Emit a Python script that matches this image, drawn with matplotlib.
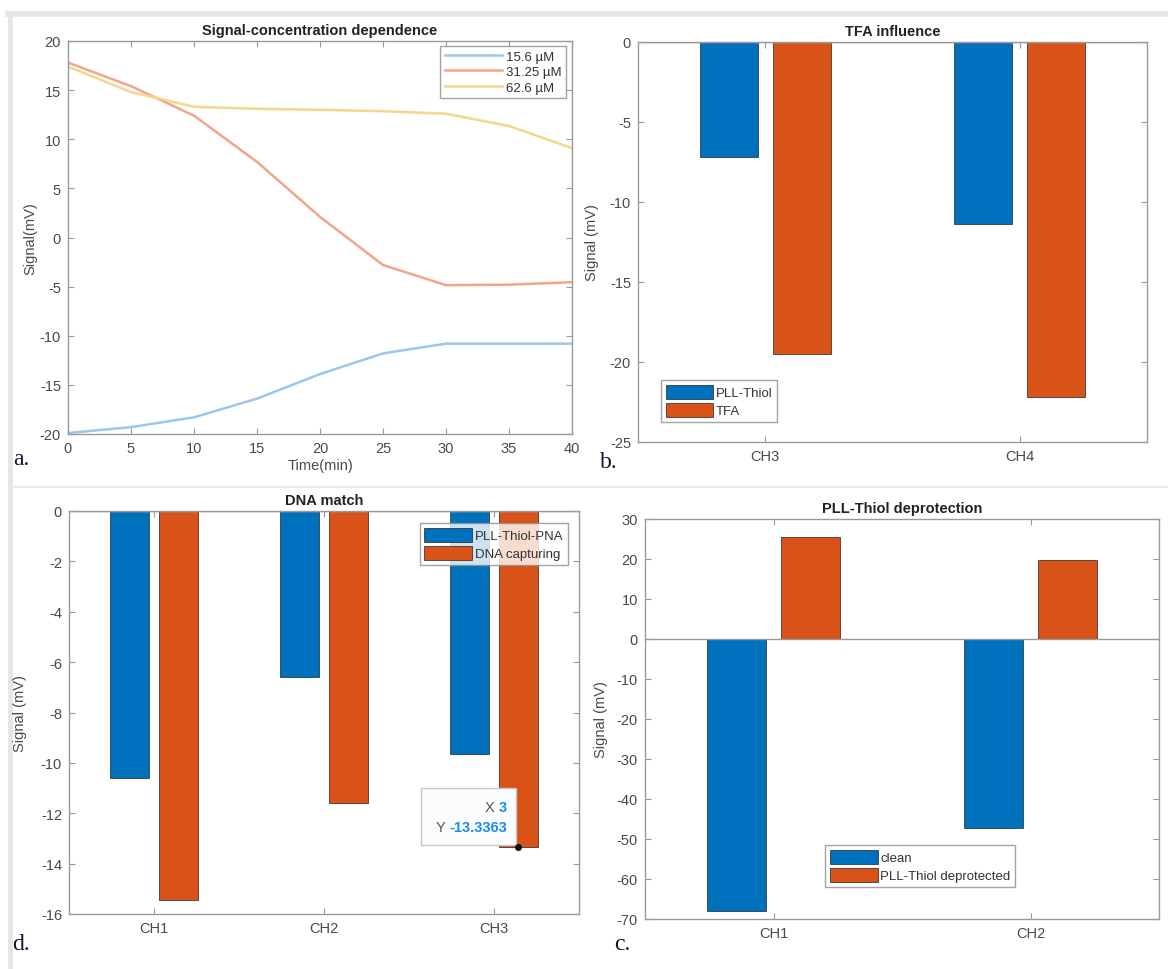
import numpy as np
import matplotlib.pyplot as plt
from matplotlib.lines import Line2D
from matplotlib.patches import Rectangle
from matplotlib.transforms import Affine2D, ScaledTranslation, offset_copy

plt.rcParams['font.family'] = ['Liberation Sans', 'DejaVu Sans']
plt.rcParams['axes.unicode_minus'] = False

# panel a: signal vs time
time_min = [0, 5, 10, 15, 20, 25, 30, 35, 40]
sig_156 = [-19.9, -19.3, -18.3, -16.4, -13.9, -11.8, -10.8, -10.8, -10.8]
sig_3125 = [17.8, 15.4, 12.4, 7.7, 2.1, -2.8, -4.85, -4.8, -4.55]
sig_626 = [17.4, 14.8, 13.3, 13.1, 13.0, 12.85, 12.6, 11.35, 9.1]
conc_labels = ['15.6 µM', '31.25 µM', '62.6 µM']

# panel b: TFA influence
tfa_channels = ['CH3', 'CH4']
tfa_thiol = [-7.2, -11.35]
tfa_tfa = [-19.5, -22.2]

# panel d: DNA match
dna_channels = ['CH1', 'CH2', 'CH3']
dna_pna = [-10.6, -6.6, -9.65]
dna_capt = [-15.45, -11.6, -13.3363]

# panel c: deprotection
dep_channels = ['CH1', 'CH2']
dep_clean = [-68.0, -47.3]
dep_deprot = [25.5, 19.7]

BLUE = '#0072BD'
ORANGE = '#D95319'
SPINE = '#9a9a9a'
TXT = '#4a4a4a'

W, H = 1168, 970
fig = plt.figure(figsize=(W / 100, H / 100), dpi=100)


def box(l, t, r, b):
    return [l / W, 1 - b / H, (r - l) / W, (b - t) / H]


def style(ax):
    for s in ax.spines.values():
        s.set_color(SPINE)
        s.set_linewidth(1.0)
    ax.tick_params(direction='in', top=True, right=True, length=4,
                   color=SPINE, labelcolor=TXT, labelsize=10.5, pad=5)
    ax.set_facecolor('white')


def grouped(ax, cats, s1, s2, lab1, lab2):
    x = np.arange(1, len(cats) + 1)
    w = 0.229
    ax.bar(x - 0.143, s1, w, color=BLUE, edgecolor='#222222', lw=0.5, label=lab1, zorder=2)
    ax.bar(x + 0.143, s2, w, color=ORANGE, edgecolor='#222222', lw=0.5, label=lab2, zorder=2)
    ax.axhline(0, color=SPINE, lw=1.0, zorder=3)
    ax.set_xticks(x)
    ax.set_xticklabels(cats)
    ax.set_xlim(0.5, len(cats) + 0.5)
    return x


def bar_legend(ax, loc, bta):
    leg = ax.legend(loc=loc, bbox_to_anchor=bta, fontsize=9.5, frameon=True, fancybox=False,
                    edgecolor='#8c8c8c', handlelength=3.6, handleheight=1.3,
                    handletextpad=0.2, borderpad=0.35, labelspacing=0.25, borderaxespad=0)
    leg.get_frame().set_linewidth(1.0)
    for t in leg.get_texts():
        t.set_color('#333333')
    return leg


# ---- panel a
axa = fig.add_axes(box(68, 42, 572, 435))
style(axa)
axa.plot(time_min, sig_156, color='#9cc7ea', lw=1.8, label=conc_labels[0])
axa.plot(time_min, sig_3125, color='#f1a58c', lw=1.8, label=conc_labels[1])
axa.plot(time_min, sig_626, color='#f6d58c', lw=1.8, label=conc_labels[2])
axa.set_xlim(0, 40)
axa.set_ylim(-20, 20)
axa.set_xticks(np.arange(0, 41, 5))
axa.set_yticks(np.arange(-20, 21, 5))
axa.set_xlabel('Time(min)', color=TXT, fontsize=10.5, labelpad=2)
axa.set_ylabel('Signal(mV)', color=TXT, fontsize=10.5, labelpad=2)
axa.set_title('Signal-concentration dependence', fontsize=10.5, fontweight='bold', color='#222222', pad=5)
lg = axa.legend(loc='upper right', bbox_to_anchor=(0.988, 0.988), fontsize=9.5, fancybox=False,
                edgecolor='#8c8c8c', handlelength=4.3, handletextpad=0.3, borderpad=0.35,
                labelspacing=0.25, borderaxespad=0)
for t in lg.get_texts():
    t.set_color('#333333')

# ---- panel b
axb = fig.add_axes(box(638, 43, 1147, 443))
style(axb)
grouped(axb, tfa_channels, tfa_thiol, tfa_tfa, 'PLL-Thiol', 'TFA')
axb.set_ylim(-25, 0)
axb.set_yticks(np.arange(-25, 1, 5))
axb.set_ylabel('Signal (mV)', color=TXT, fontsize=10.5, labelpad=8)
axb.set_title('TFA influence', fontsize=10.5, fontweight='bold', color='#222222', pad=5)
bar_legend(axb, 'lower left', (0.045, 0.05))

# ---- panel d
axd = fig.add_axes(box(69, 512, 579, 915))
style(axd)
xd = grouped(axd, dna_channels, dna_pna, dna_capt, 'PLL-Thiol-PNA', 'DNA capturing')
axd.set_ylim(-16, 0)
axd.set_yticks(np.arange(-16, 1, 2))
axd.set_ylabel('Signal (mV)', color=TXT, fontsize=10.5, labelpad=10)
axd.set_title('DNA match', fontsize=10.5, fontweight='bold', color='#222222', pad=5)
bar_legend(axd, 'upper right', (0.978, 0.97))

# data tip on CH3 / DNA capturing
tip_x = xd[2] + 0.143
tip_y = dna_capt[2]
pt = fig.dpi / 72.0
tip_tr = Affine2D().scale(pt) + ScaledTranslation(tip_x, tip_y, axd.transData)
axd.add_patch(Rectangle((-70, 1.5), 68, 41, transform=tip_tr, facecolor='#fbfcfe',
                        edgecolor='#c8c8c8', lw=1.0, zorder=5))
axd.plot([tip_x], [tip_y], 'o', color='#111111', ms=4, zorder=6)
t_x = axd.text(tip_x, tip_y, '3', transform=offset_copy(axd.transData, fig, x=-8, y=29, units='points'),
               ha='right', va='center', color='#1a8cf0', fontsize=10.5, fontweight='bold', zorder=7)
axd.annotate('X ', xy=(0, 0.5), xycoords=t_x, ha='right', va='center', color='#555555',
             fontsize=10.5, zorder=7)
t_y = axd.text(tip_x, tip_y, '%.4f' % tip_y,
               transform=offset_copy(axd.transData, fig, x=-8, y=14, units='points'),
               ha='right', va='center', color='#1a8cf0', fontsize=10.5, fontweight='bold', zorder=7)
axd.annotate('Y ', xy=(0, 0.5), xycoords=t_y, ha='right', va='center', color='#555555',
             fontsize=10.5, zorder=7)

# ---- panel c
axc = fig.add_axes(box(645, 520, 1159, 920))
style(axc)
grouped(axc, dep_channels, dep_clean, dep_deprot, 'clean', 'PLL-Thiol deprotected')
axc.set_ylim(-70, 30)
axc.set_yticks(np.arange(-70, 31, 10))
axc.set_ylabel('Signal (mV)', color=TXT, fontsize=10.5, labelpad=6)
axc.set_title('PLL-Thiol deprotection', fontsize=10.5, fontweight='bold', color='#222222', pad=5)
bar_legend(axc, 'lower right', (0.72, 0.08))

# panel letters
for s, px, py in [('a.', 13, 460), ('b.', 600, 463), ('d.', 12, 945), ('c.', 614, 945)]:
    fig.text(px / W, 1 - py / H, s, family=['Liberation Serif', 'DejaVu Serif'], fontsize=17,
             color='#111133', va='center', ha='left')

# screenshot frame lines
for (x0, y0, x1, y1, lw) in [(8, 15, 1168, 15, 4.0), (10, 15, 10, 970, 3.5), (12, 488, 1168, 488, 1.2)]:
    fig.add_artist(Line2D([x0 / W, x1 / W], [1 - y0 / H, 1 - y1 / H], color='#e6e6e6', lw=lw, zorder=0))

fig.savefig('out.png', dpi=100, facecolor='white')
